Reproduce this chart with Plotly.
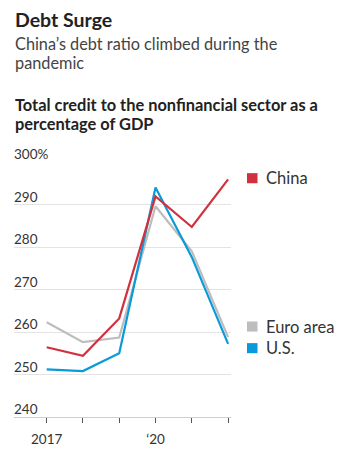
import plotly.graph_objects as go

years = [2017, 2018, 2019, 2020, 2021, 2022]
china = [256.4, 254.4, 263.2, 291.9, 284.7, 295.9]
euro = [262.3, 257.6, 258.7, 289.6, 279.0, 258.8]
us = [251.2, 250.8, 255.0, 294.0, 277.6, 257.2]

series_names = ["Euro area", "U.S.", "China"]
series_vals = [euro, us, china]
colors = {"China": "#d1313d", "Euro area": "#bdbdbd", "U.S.": "#0a9ad9"}

y_ticks = [240, 250, 260, 270, 280, 290, 300]
y_tick_text = ["240", "250", "260", "270", "280", "290", "300%"]
x_tick_text = ["2017", "", "", "\u201820", "", ""]

title = "Debt Surge"
subtitle_lines = ["China\u2019s debt ratio climbed during the", "pandemic"]
chart_title_lines = ["Total credit to the nonfinancial sector as a", "percentage of GDP"]

FONT = "Lato"
W, H = 354, 459
L, R, T, B = 14, 123, 162, 34
PH = H - T - B
PW = W - L - R


def py(Y):
    return (H - B - Y) / PH


def pxx(X):
    return (X - L) / PW


fig = go.Figure()
for name, vals in zip(series_names, series_vals):
    fig.add_trace(go.Scatter(x=years, y=vals, mode="lines", name=name,
                             line=dict(color=colors[name], width=2.2),
                             showlegend=False, hoverinfo="skip"))

ann = []
ann.append(dict(text="<b>" + title + "</b>", x=pxx(13), y=py(15.5), xref="paper", yref="paper",
                xanchor="left", yanchor="middle", showarrow=False,
                font=dict(family=FONT, size=19.5, color="#222")))
for i, line in enumerate(subtitle_lines):
    ann.append(dict(text=line, x=pxx(13), y=py(39.5 + 20 * i), xref="paper", yref="paper",
                    xanchor="left", yanchor="middle", showarrow=False,
                    font=dict(family=FONT, size=16.3, color="#444")))
for i, line in enumerate(chart_title_lines):
    ann.append(dict(text="<b>" + line + "</b>", x=pxx(13), y=py(103 + 19.5 * i), xref="paper", yref="paper",
                    xanchor="left", yanchor="middle", showarrow=False,
                    font=dict(family=FONT, size=16.4, color="#222")))
for v, t in zip(y_ticks, y_tick_text):
    ann.append(dict(text=t, x=0, y=v, xref="paper", yref="y", xanchor="left", yanchor="middle",
                    yshift=8, xshift=-2, showarrow=False,
                    font=dict(family=FONT, size=13.5, color="#333")))

legend_items = [("China", 178.7), ("Euro area", 331.7), ("U.S.", 354)]
shapes = []
for name, yc in legend_items:
    shapes.append(dict(type="rect", xref="paper", yref="paper",
                       x0=pxx(247), x1=pxx(257.5), y0=py(yc + 5.2), y1=py(yc - 5.2),
                       fillcolor=colors[name], line=dict(width=0)))
    ann.append(dict(text=name, x=pxx(264), y=py(yc), xref="paper", yref="paper",
                    xanchor="left", yanchor="middle", showarrow=False,
                    font=dict(family=FONT, size=16.5, color="#333")))

fig.update_layout(
    width=W, height=H, margin=dict(l=L, r=R, t=T, b=B),
    paper_bgcolor="white", plot_bgcolor="white",
    annotations=ann, shapes=shapes, showlegend=False,
    xaxis=dict(range=[2016.1, 2022.08], tickvals=years, ticktext=x_tick_text,
               ticks="outside", ticklen=5, tickcolor="#555", tickwidth=1,
               ticklabelstandoff=5,
               showgrid=False, zeroline=False, showline=True, linecolor="#cfcfcf", linewidth=1,
               tickfont=dict(family=FONT, size=13.5, color="#333"), fixedrange=True),
    yaxis=dict(range=[240, 300], tickvals=y_ticks, showticklabels=False,
               showgrid=True, gridcolor="#e3e3e3", gridwidth=1, zeroline=False, fixedrange=True),
)

fig.write_html("out.html")
